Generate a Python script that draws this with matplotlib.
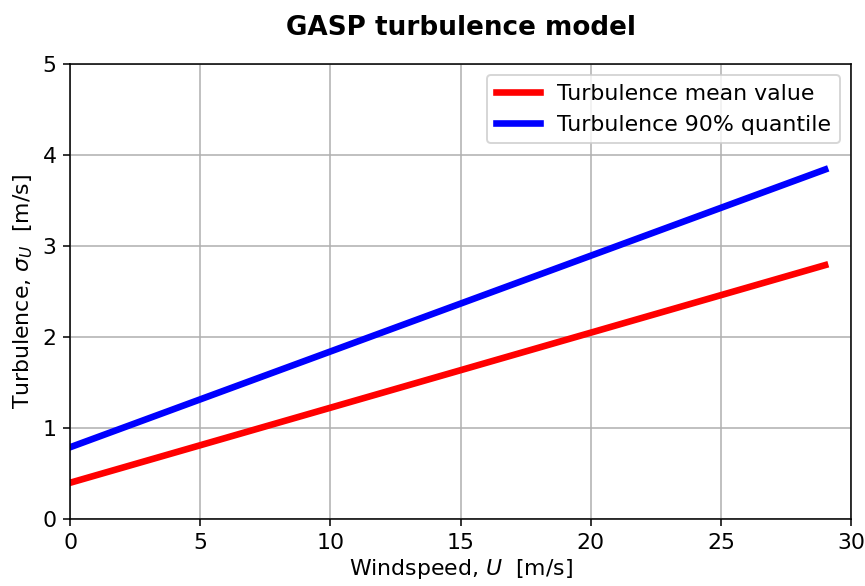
import numpy as np
import matplotlib.pyplot as plt

# Windspeed range and turbulence values (end points of the straight lines)
windspeed = [0, 29]
turb_mean = [0.40, 2.79]
turb_q90 = [0.79, 3.84]

def plot_graph():
    plt.rcParams['font.size'] = 11.3
    fig, ax = plt.subplots(figsize=(865 / 140, 586 / 140), dpi=140)
    fig.subplots_adjust(left=0.081, right=0.984, top=0.891, bottom=0.114)

    ax.plot(windspeed, turb_mean, color='red', linewidth=3.4, label='Turbulence mean value')
    ax.plot(windspeed, turb_q90, color='blue', linewidth=3.4, label='Turbulence 90% quantile')

    ax.set_xlim(0, 30)
    ax.set_ylim(0, 5)
    ax.grid(True)
    ax.set_title('GASP turbulence model', fontweight='bold', fontsize=13.5, pad=15)
    ax.set_xlabel(r'Windspeed, $U$  [m/s]', labelpad=2)
    ax.set_ylabel(r'Turbulence, $\sigma_U$  [m/s]')
    ax.legend(loc='upper right')

    fig.savefig('out.png', dpi=140)

def main():
    plot_graph()

if __name__ == "__main__":
    main()
